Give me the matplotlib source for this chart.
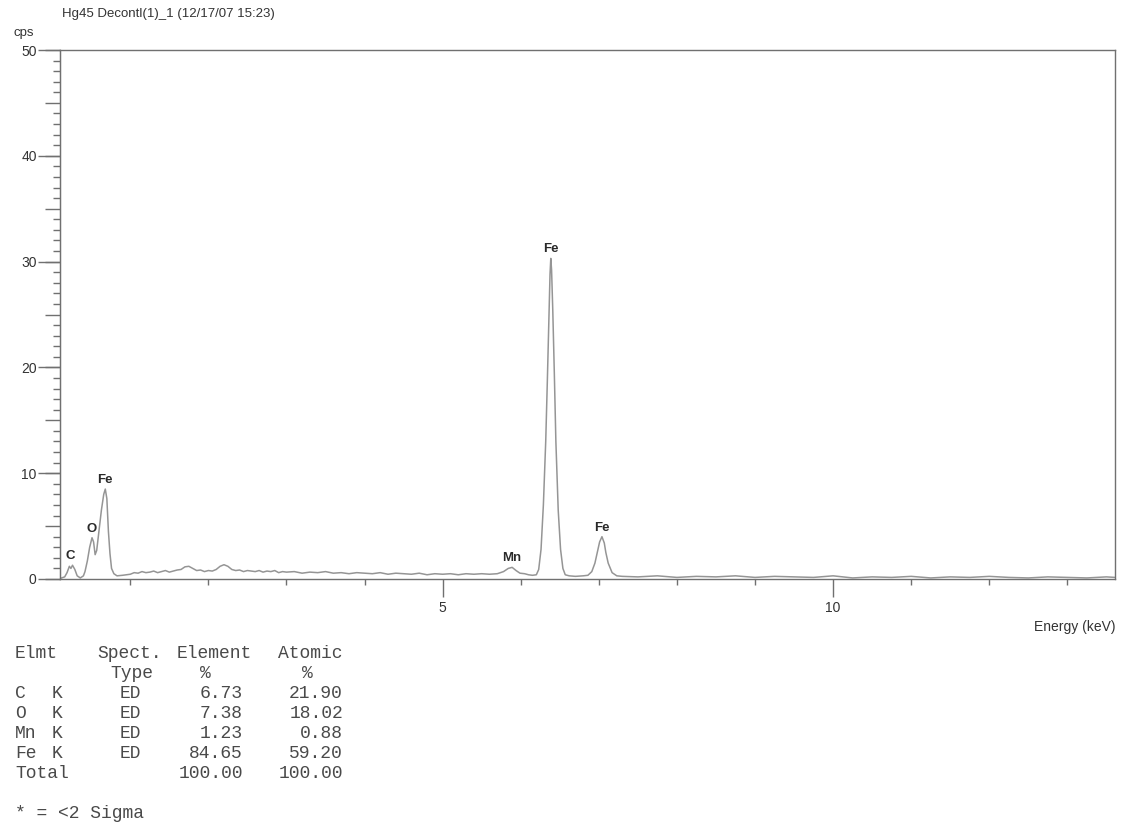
import matplotlib
matplotlib.use("Agg")
import matplotlib.pyplot as plt
from matplotlib.ticker import MultipleLocator, NullFormatter

# ---------------- data ----------------
energy_low = [0.10, 0.16, 0.19, 0.22, 0.24, 0.26, 0.29, 0.32, 0.36, 0.40, 0.42, 0.45,
              0.48, 0.51, 0.53, 0.55, 0.57, 0.60, 0.63, 0.66, 0.68, 0.70, 0.72, 0.74,
              0.76, 0.79, 0.83, 0.90, 0.95]
cps_low = [0.05, 0.2, 0.6, 1.2, 1.0, 1.3, 0.9, 0.3, 0.1, 0.3, 0.7, 1.7,
           3.0, 3.9, 3.5, 2.3, 2.7, 4.6, 6.5, 8.0, 8.5, 7.6, 4.5, 2.4,
           1.0, 0.5, 0.3, 0.35, 0.4]

energy_bg = [1.00, 1.05, 1.10, 1.15, 1.20, 1.25, 1.30, 1.35, 1.40, 1.45, 1.50, 1.55,
             1.60, 1.65, 1.70, 1.75, 1.80, 1.85, 1.90, 1.95, 2.00, 2.05, 2.10, 2.15,
             2.20, 2.25, 2.30, 2.35, 2.40, 2.45, 2.50, 2.55, 2.60, 2.65, 2.70, 2.75,
             2.80, 2.85, 2.90, 2.95, 3.00, 3.10, 3.20, 3.30, 3.40, 3.50, 3.60, 3.70,
             3.80, 3.90, 4.00, 4.10, 4.20, 4.30, 4.40, 4.50, 4.60, 4.70, 4.80, 4.90,
             5.00, 5.10, 5.20, 5.30, 5.40, 5.50]
cps_bg = [0.45, 0.6, 0.55, 0.7, 0.6, 0.65, 0.75, 0.6, 0.7, 0.8, 0.65, 0.75,
          0.85, 0.9, 1.15, 1.2, 1.0, 0.8, 0.85, 0.7, 0.8, 0.75, 0.9, 1.2,
          1.35, 1.2, 0.9, 0.8, 0.85, 0.7, 0.8, 0.75, 0.7, 0.8, 0.65, 0.75,
          0.7, 0.8, 0.6, 0.7, 0.65, 0.7, 0.55, 0.65, 0.6, 0.7, 0.55, 0.6,
          0.5, 0.6, 0.55, 0.5, 0.6, 0.45, 0.55, 0.5, 0.45, 0.55, 0.4, 0.5,
          0.45, 0.5, 0.4, 0.5, 0.45, 0.5]

energy_mn = [5.60, 5.70, 5.78, 5.84, 5.89, 5.94, 5.99, 6.05, 6.10, 6.15]
cps_mn = [0.45, 0.5, 0.7, 1.0, 1.1, 0.8, 0.55, 0.5, 0.4, 0.35]

energy_fe_ka = [6.20, 6.23, 6.26, 6.29, 6.32, 6.34, 6.36, 6.375, 6.385, 6.395, 6.41,
                6.43, 6.45, 6.48, 6.51, 6.54, 6.57]
cps_fe_ka = [0.4, 0.9, 2.8, 7.0, 13.0, 18.5, 24.5, 28.8, 30.3, 29.2, 25.5,
             19.5, 13.0, 6.5, 2.8, 1.0, 0.4]

energy_fe_kb = [6.62, 6.70, 6.80, 6.86, 6.91, 6.95, 6.98, 7.01, 7.04, 7.07, 7.09,
                7.12, 7.17, 7.23, 7.30]
cps_fe_kb = [0.3, 0.25, 0.3, 0.35, 0.7, 1.5, 2.5, 3.5, 4.0, 3.4, 2.5,
             1.5, 0.6, 0.3, 0.25]

energy_high = [7.5, 7.75, 8.0, 8.25, 8.5, 8.75, 9.0, 9.25, 9.5, 9.75, 10.0, 10.25,
               10.5, 10.75, 11.0, 11.25, 11.5, 11.75, 12.0, 12.25, 12.5, 12.75, 13.0,
               13.25, 13.5, 13.61]
cps_high = [0.2, 0.3, 0.15, 0.25, 0.2, 0.3, 0.15, 0.25, 0.2, 0.15, 0.3, 0.1,
            0.2, 0.15, 0.25, 0.1, 0.2, 0.15, 0.25, 0.15, 0.1, 0.2, 0.15,
            0.1, 0.2, 0.15]

peak_labels = ["C", "O", "Fe", "Mn", "Fe", "Fe"]
peak_energy = [0.23, 0.50, 0.68, 5.88, 6.385, 7.04]
peak_cps = [1.3, 3.9, 8.5, 1.1, 30.3, 4.0]

table_elements = ["C", "O", "Mn", "Fe"]
table_lines = ["K", "K", "K", "K"]
table_types = ["ED", "ED", "ED", "ED"]
element_pct = ["6.73", "7.38", "1.23", "84.65"]
atomic_pct = ["21.90", "18.02", "0.88", "59.20"]
total_element = "100.00"
total_atomic = "100.00"

title = "Hg45 Decontl(1)_1 (12/17/07 15:23)"

# ---------------- figure ----------------
W, H = 1121, 822
fig = plt.figure(figsize=(W / 100, H / 100), dpi=100)
fig.patch.set_facecolor("white")


def fx(px):
    return px / W


def fy(py):
    return 1 - py / H


ax = fig.add_axes([fx(60), fy(579), (1115 - 60) / W, (579 - 50) / H])

energy = energy_low + energy_bg + energy_mn + energy_fe_ka + energy_fe_kb + energy_high
cps = cps_low + cps_bg + cps_mn + cps_fe_ka + cps_fe_kb + cps_high
ax.plot(energy, cps, color="#959595", lw=1.1, solid_joinstyle="round")

ax.set_xlim(0.10, 13.61)
ax.set_ylim(0, 50)

spine_col = "#707070"
for s in ax.spines.values():
    s.set_color(spine_col)
    s.set_linewidth(1.0)

label_font = "Liberation Sans"
txt_col = "#333333"

# x ticks
ax.xaxis.set_major_locator(MultipleLocator(5))
ax.xaxis.set_minor_locator(MultipleLocator(1))
ax.tick_params(axis="x", which="major", direction="out", length=13, width=1,
               color=spine_col, pad=2.5, labelsize=10, labelcolor=txt_col)
ax.tick_params(axis="x", which="minor", direction="out", length=4, width=1,
               color=spine_col)
for lab in ax.get_xticklabels():
    lab.set_fontfamily(label_font)

# y ticks: 5s medium and 1s minor on main axis
ax.yaxis.set_major_locator(MultipleLocator(5))
ax.yaxis.set_minor_locator(MultipleLocator(1))
ax.yaxis.set_major_formatter(NullFormatter())
ax.tick_params(axis="y", which="major", direction="out", length=11, width=1,
               color=spine_col)
ax.tick_params(axis="y", which="minor", direction="out", length=5, width=1,
               color=spine_col)

# long labelled ticks at every 10 cps
sec = ax.secondary_yaxis("left")
sec.set_yticks(list(range(0, 51, 10)))
sec.tick_params(axis="y", direction="out", length=16, width=1, color=spine_col,
                pad=0.8, labelsize=10, labelcolor=txt_col)
sec.spines["left"].set_color(spine_col)
for lab in sec.get_yticklabels():
    lab.set_fontfamily(label_font)

# peak labels
for name, e, c in zip(peak_labels, peak_energy, peak_cps):
    ax.annotate(name, (e, c), xytext=(0, 6.5), textcoords="offset points",
                ha="center", va="center", fontsize=9.5, fontweight="bold",
                color="#2a2a2a", family=label_font)

# header texts
fig.text(fx(62), fy(14), title, fontsize=9.5, color=txt_col, family=label_font,
         ha="left", va="center")
fig.text(fx(13), fy(33), "cps", fontsize=9.5, color=txt_col, family=label_font,
         ha="left", va="center")
fig.text(fx(1115), fy(627), "Energy (keV)", fontsize=10, color=txt_col,
         family=label_font, ha="right", va="center")

# results table
mono = "Liberation Mono"
tcol = "#4a4a4a"
tsize = 13


def t(px, py, s, ha="left"):
    fig.text(fx(px), fy(py), s, fontsize=tsize, family=mono, color=tcol,
             ha=ha, va="center")


row0 = 653
step = 20
t(15, row0, "Elmt")
t(97, row0, "Spect.")
t(177, row0, "Element")
t(278, row0, "Atomic")
t(110, row0 + step, "Type")
t(205, row0 + step, "%", ha="center")
t(307, row0 + step, "%", ha="center")
for i, (el, ln, ty, ep, ap) in enumerate(zip(table_elements, table_lines,
                                             table_types, element_pct, atomic_pct)):
    y = row0 + step * (i + 2)
    t(15, y, el)
    t(52, y, ln)
    t(120, y, ty)
    t(243, y, ep, ha="right")
    t(343, y, ap, ha="right")
y_tot = row0 + step * (len(table_elements) + 2)
t(15, y_tot, "Total")
t(243, y_tot, total_element, ha="right")
t(343, y_tot, total_atomic, ha="right")
t(15, y_tot + 40, "* = <2 Sigma")

fig.savefig("out.png", dpi=100, facecolor="white")
